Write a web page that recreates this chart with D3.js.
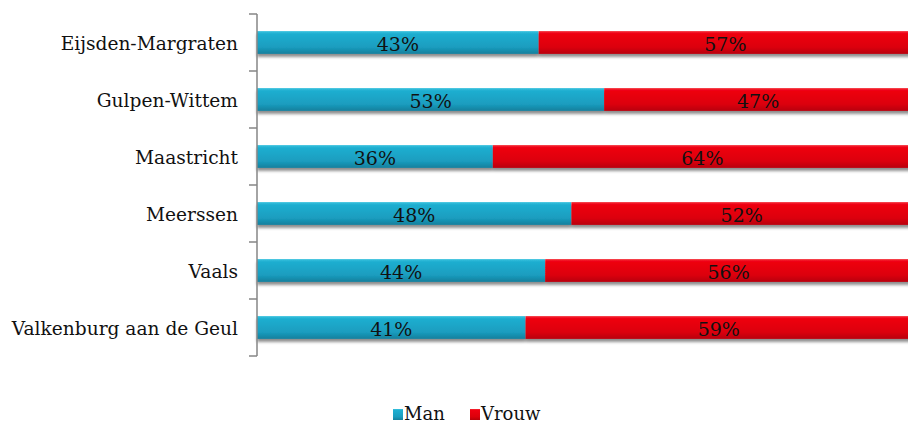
<!DOCTYPE html>
<html><head><meta charset="utf-8">
<script src="https://cdn.jsdelivr.net/npm/d3@7"></script>
<style>body{margin:0;background:#fff}svg{display:block}text{font-family:"DejaVu Serif","Liberation Serif",serif;fill:#111}</style>
</head><body><svg id="c" width="908" height="424"></svg>
<script>
const categories=["Eijsden-Margraten","Gulpen-Wittem","Maastricht","Meerssen","Vaals","Valkenburg aan de Geul"];
const man=[43,53,36,48,44,41];
const vrouw=[57,47,64,52,56,59];
const seriesNames=["Man","Vrouw"];

const svg=d3.select("#c");
const defs=svg.append("defs");
const gb=defs.append("linearGradient").attr("id","gBlue").attr("x1",0).attr("y1",0).attr("x2",0).attr("y2",1);
gb.append("stop").attr("offset","0").attr("stop-color","#3cc3df");
gb.append("stop").attr("offset","0.12").attr("stop-color","#1eaed0");
gb.append("stop").attr("offset","0.7").attr("stop-color","#1a9dbf");
gb.append("stop").attr("offset","1").attr("stop-color","#157f9c");
const gr=defs.append("linearGradient").attr("id","gRed").attr("x1",0).attr("y1",0).attr("x2",0).attr("y2",1);
gr.append("stop").attr("offset","0").attr("stop-color","#f5303a");
gr.append("stop").attr("offset","0.12").attr("stop-color","#ee0010");
gr.append("stop").attr("offset","0.7").attr("stop-color","#dc000a");
gr.append("stop").attr("offset","1").attr("stop-color","#b80008");
const f=defs.append("filter").attr("id","sh").attr("x","-5%").attr("y","-30%").attr("width","110%").attr("height","180%");
f.append("feGaussianBlur").attr("in","SourceAlpha").attr("stdDeviation",1.6).attr("result","b");
f.append("feOffset").attr("in","b").attr("dy",3).attr("result","o");
f.append("feComponentTransfer").attr("in","o").attr("result","t").append("feFuncA").attr("type","linear").attr("slope",0.45);
const fm=f.append("feMerge");fm.append("feMergeNode").attr("in","t");fm.append("feMergeNode").attr("in","SourceGraphic");

const x0=257,plotW=655,yTop=14,yBot=356;
const x=d3.scaleLinear().domain([0,100]).range([x0,x0+plotW]);
const y=d3.scaleBand().domain(categories).range([yTop,yBot]).paddingInner(0.6).paddingOuter(0.3);
const yb=d3.scaleBand().domain(categories).range([yTop,yBot]);

const data=categories.map((c,i)=>({c,m:man[i],v:vrouw[i]}));
const g=svg.append("g");
const rows=g.selectAll("g.r").data(data).join("g").attr("filter","url(#sh)");
rows.append("rect").attr("x",d=>x(0)).attr("y",d=>y(d.c)).attr("width",d=>x(d.m)-x(0)).attr("height",y.bandwidth()).attr("fill","url(#gBlue)");
rows.append("rect").attr("x",d=>x(d.m)).attr("y",d=>y(d.c)).attr("width",d=>x(d.m+d.v)-x(d.m)).attr("height",y.bandwidth()).attr("fill","url(#gRed)");
const lab=g.selectAll("g.l").data(data).join("g");
lab.append("text").attr("x",d=>(x(0)+x(d.m))/2).attr("y",d=>y(d.c)+y.bandwidth()/2+8).attr("text-anchor","middle").attr("font-size",19).text(d=>d.m+"%");
lab.append("text").attr("x",d=>(x(d.m)+x(d.m+d.v))/2).attr("y",d=>y(d.c)+y.bandwidth()/2+8).attr("text-anchor","middle").attr("font-size",19).text(d=>d.v+"%");

// axis
const ax=svg.append("g");
ax.append("line").attr("x1",x0).attr("x2",x0).attr("y1",yTop).attr("y2",yBot).attr("stroke","#868686").attr("stroke-width",1.5);
const tks=d3.range(categories.length+1).map(i=>yTop+i*yb.step());
ax.selectAll("line.t").data(tks).join("line").attr("x1",x0-8).attr("x2",x0).attr("y1",d=>d).attr("y2",d=>d).attr("stroke","#868686").attr("stroke-width",1.5);
ax.selectAll("text").data(categories).join("text").attr("x",238).attr("y",d=>yb(d)+yb.bandwidth()/2+7.5).attr("text-anchor","end").attr("font-size",18.6).text(d=>d);

// legend
const lg=svg.append("g");
const lx=[393,470];
const fills=["url(#gBlue)","url(#gRed)"];
seriesNames.forEach((s,i)=>{
  lg.append("rect").attr("x",lx[i]).attr("y",409).attr("width",10).attr("height",11).attr("fill",fills[i]);
  lg.append("text").attr("x",lx[i]+11).attr("y",419.5).attr("font-size",18).text(s);
});
</script></body></html>
